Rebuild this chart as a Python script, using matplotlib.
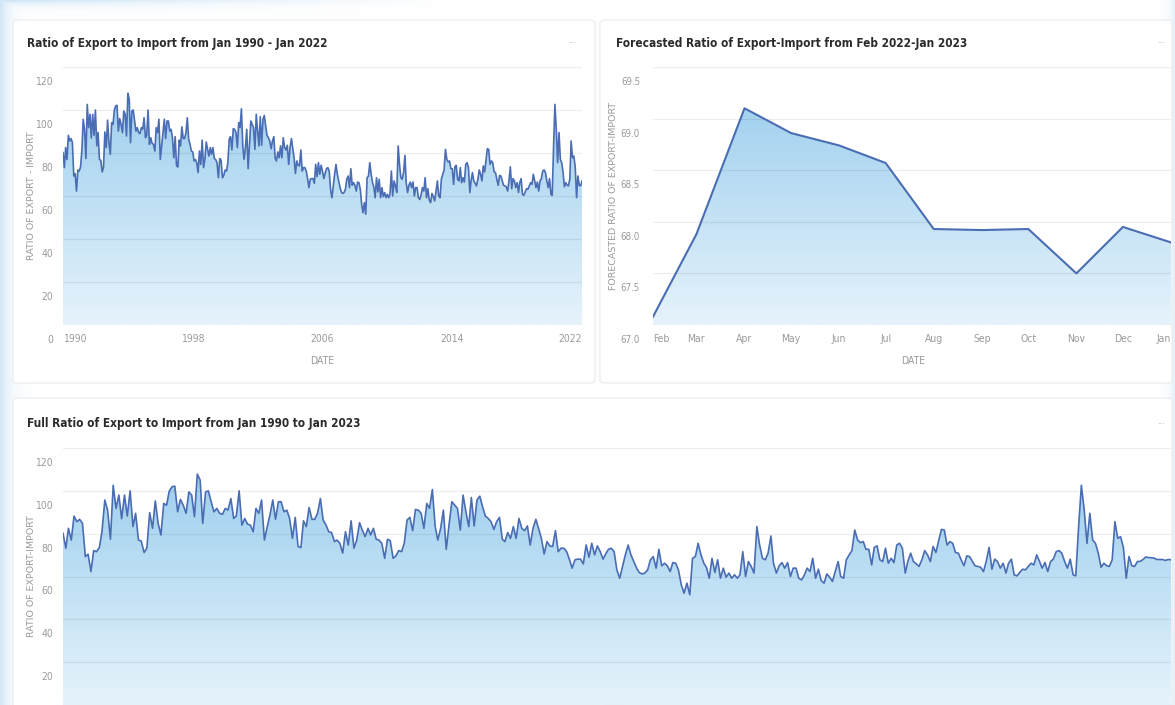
import numpy as np
import pandas as pd
import matplotlib
matplotlib.use('Agg')
import matplotlib.pyplot as plt
from matplotlib import transforms, font_manager
from matplotlib.colors import LinearSegmentedColormap, to_rgb
from matplotlib.patches import FancyBboxPatch
import matplotlib.dates as mdates

# ---------------- data ----------------
hist_start = '1990-01-01'
forecast_start = '2022-02-01'

ratio_part1 = [
    80.2, 73.2, 82.5, 77, 88.2, 85.6, 86.7, 84.8, 69.3, 70.4,
    62.3, 72.1, 71.6, 73.6, 81, 95.7, 91, 77.4, 102.6, 91.8,
    98, 87, 98, 88.2, 100, 83.3, 89.5, 77, 76.6, 71.2,
    73.2, 89.8, 82.5, 95.3, 84.8, 79.4, 94.1, 93.3, 99.8, 101.9,
    102.2, 90.2, 96, 93.3, 89.5, 99.5, 98, 87.9, 107.8, 105,
    84.8, 99.5, 100, 94.9, 90.2, 91.8, 89.5, 89, 91.8, 91,
    96.4, 87.1, 88.2, 100, 84, 87.1, 84.5, 84, 80.9, 91.8,
    89.5, 95.7, 77, 83.3, 88.7, 95.7, 86.7, 94.9, 94.9, 90.2,
    91, 87.1, 77.8, 87.6, 74, 73.5, 86, 83.3, 92.2, 86.7,
    86.7, 89.5, 96.4, 86.4, 84, 80.9, 80.5, 76.3, 77, 75.5,
    70.9, 80.9, 74.7, 86, 73.2, 77, 85.1, 81.7, 78.6, 82.5,
    79.4, 82.5, 77.4, 77, 75.5, 68.5, 77.4, 76.7, 68.5, 69.6,
    72.1, 71.6, 75.5, 86.4, 87.6, 81.4, 91.3, 91, 89.5, 82.5,
    94.1, 91.8, 100.6,
]
ratio_part2 = [
    83.3, 77, 82.5, 91, 72.7, 84, 94.9, 93.3, 91.8, 81.7,
    98, 90.2, 83.3, 96.9, 83.6, 95.7, 97.5, 92.6, 88.2, 87.1,
    85.6, 82, 85.6, 87.6, 77.4, 76.3, 80.5, 77.8, 83.3, 77.8,
    87.1, 82.5, 81.4, 83.6, 74.7, 82.5, 86.7, 82.5, 77.8, 70.5,
    76.3, 74.3, 74, 81.4, 71.6, 73.2, 73.2, 71.6, 67.8,
    63.9, 67.8, 68.1, 68.1, 65.9, 74.7, 69, 75.5, 70.1, 74.3,
    71.6, 68.1, 70.5, 72.7, 73.2, 71.6, 63.1, 59.2, 64.7, 70.1,
    74.7, 70.1, 67, 63.9, 61.9, 61.2, 61.6, 63.1, 67.8, 69.3,
    63.9, 72.7, 65, 66.2, 65, 62.3, 66.5, 66.2, 63.1, 56.1,
    52.2, 56.9, 51.5, 68.5, 69.3, 75.5, 70.1, 66.2, 64.3, 59.2,
    68.5, 61.9, 67.8, 59.2, 63.9, 59.7, 61.6, 59.2, 60.8, 59.2,
    60.8, 71.6, 60, 67, 64.7, 61.6, 83.3, 74.7, 68.5, 67.8,
    70.9, 78.9, 66.2, 61.6, 65, 66.5, 63.9, 66.5, 60, 63.9,
    63.9, 59.2, 58.4,
]
ratio_part3 = [
    60.8, 63.9, 62.3, 68.5, 59.2, 63.4, 58.1, 56.9, 61.2, 59.7,
    57.7, 62.3, 67, 60, 59.2, 67.8, 70.1, 72.1, 81.7, 77,
    75.8, 76.3, 72.7, 72.7, 65.4, 73.6, 74.3, 67.8, 67,
    73.2, 66.2, 68.5, 66.5, 74.7, 75.5, 73.2, 61.6, 67, 70.9,
    67, 65.9, 64.7, 67.8, 72.1, 70.1, 67, 74, 71.2, 77,
    82, 81.7, 74.7, 76.3, 75.5, 71.2, 70.9, 67.8, 65, 69.6,
    69.3, 67, 65, 64.7, 64.3, 62.3, 67, 73.6, 63.4, 68.1,
    67, 63.9, 66.2, 61.6, 66.2, 68.1, 60.8, 60.3, 61.9, 63.4,
    63.1, 64.7, 66.2, 65.4, 70.1, 67, 63.9, 66.5, 62.3, 67,
    68.1, 71.6, 72.1, 70.9, 67, 63.9, 68.1, 60.8, 60.3,
    83.3, 102.6, 91, 75.5, 89.5, 77, 75.5, 70.9, 64.3, 66.2,
    65, 64.7, 67.8, 85.6, 77.8, 78.6, 73.6, 59.2, 69.3, 65,
    64.7, 67,
]
forecast_ratio = [67.08, 67.88, 69.10, 68.86, 68.74, 68.57,
                  67.93, 67.92, 67.93, 67.50, 67.95, 67.80]
forecast_months = ['Feb', 'Mar', 'Apr', 'May', 'Jun', 'Jul',
                   'Aug', 'Sep', 'Oct', 'Nov', 'Dec', 'Jan']
year_ticks = ['1990', '1998', '2006', '2014', '2022']
hist_yticks = [0, 20, 40, 60, 80, 100, 120]
forecast_yticks = [67.0, 67.5, 68.0, 68.5, 69.0, 69.5]
full_yticks = [20, 40, 60, 80, 100, 120]

title_hist = 'Ratio of Export to Import from Jan 1990 - Jan 2022'
title_fc = 'Forecasted Ratio of Export-Import from Feb 2022-Jan 2023'
title_full = 'Full Ratio of Export to Import from Jan 1990 to Jan 2023'
ylab_hist = 'RATIO OF EXPORT - IMPORT'
ylab_fc = 'FORECASTED RATIO OF EXPORT-IMPORT'
ylab_full = 'RATIO OF EXPORT-IMPORT'

hist_ratio = ratio_part1 + ratio_part2 + ratio_part3
hist_dates = pd.date_range(hist_start, periods=len(hist_ratio), freq='MS')
fc_dates = pd.date_range(forecast_start, periods=len(forecast_ratio), freq='MS')
full_dates = hist_dates.append(fc_dates)
full_ratio = hist_ratio + forecast_ratio

# ---------------- fonts ----------------
ttf = font_manager.fontManager.ttflist
names = {f.name for f in ttf}
cond = [f.name for f in ttf if f.stretch in ('condensed', 'semi-condensed', 'extra-condensed')]
if 'Liberation Sans Narrow' in names:
    NARROW, STRETCH = 'Liberation Sans Narrow', 'normal'
elif 'DejaVu Sans' in cond:
    NARROW, STRETCH = 'DejaVu Sans', 'condensed'
elif cond:
    NARROW, STRETCH = cond[0], 'condensed'
else:
    NARROW, STRETCH = 'Roboto', 'normal'
plt.rcParams['font.family'] = [NARROW, 'DejaVu Sans']
plt.rcParams['font.stretch'] = STRETCH

W, H = 1175, 705
DPI = 100
fig = plt.figure(figsize=(W / DPI, H / DPI), dpi=DPI)
fig.patch.set_facecolor('white')

def fx(x):
    return x / W

def fy(y):
    return 1 - y / H

# background tint
bg = fig.add_axes([0, 0, 1, 1], zorder=-20)
xx, yy = np.meshgrid(np.arange(W), np.arange(H))
t = np.maximum(np.exp(-xx / 9.0), np.exp(-yy / 5.0) * np.clip(1 - xx / 450, 0, 1))
t = np.maximum(t, np.exp(-(W - 1 - xx) / 5.0) * 0.6)
tint = np.array(to_rgb('#cfe6f6'))
img = (1 - t[..., None]) * np.ones(3) + t[..., None] * tint
bg.imshow(img, aspect='auto', interpolation='bilinear')
bg.set_axis_off()

# cards
for (x0, y0, x1, y1) in [(13, 20, 595, 383), (600, 20, 1172, 383), (13, 398, 1172, 712)]:
    card = FancyBboxPatch((fx(x0), fy(y1)), fx(x1 - x0), (y1 - y0) / H,
                          boxstyle='round,pad=0,rounding_size=0.004',
                          transform=fig.transFigure, facecolor='white',
                          edgecolor='#e9ebee', linewidth=0.8, zorder=-10)
    fig.patches.append(card)

LINE = '#4a6db3'
C_TOP = '#96cbed'
C_BOT = '#e6f3fb'
GRAY = '#9a9a9a'


def draw_area(ax, dates, vals, ymin, ymax, lw):
    xnum = mdates.date2num(dates)
    poly = ax.fill_between(xnum, vals, ymin, facecolor='none', edgecolor='none')
    cmap = LinearSegmentedColormap.from_list('g', [C_BOT, C_TOP])
    grad = np.linspace(1, 0, 256).reshape(-1, 1)
    im = ax.imshow(grad, aspect='auto', cmap=cmap, vmin=0, vmax=1,
                   extent=[xnum[0], xnum[-1], ymin, ymax], origin='upper',
                   zorder=1, interpolation='bilinear')
    im.set_clip_path(poly.get_paths()[0], transform=ax.transData)
    ax.plot(xnum, vals, color=LINE, lw=lw, zorder=3, solid_joinstyle='round')
    ax.set_xlim(xnum[0], xnum[-1])
    ax.set_ylim(ymin, ymax)


def style_axes(ax, grid_vals, label_vals, fmt, label_dx, fs=7.5):
    for s in ax.spines.values():
        s.set_visible(False)
    ax.set_yticks([])
    for v in grid_vals:
        ax.axhline(v, color='black', alpha=0.07, lw=0.9, zorder=2)
    for v in label_vals:
        tr = transforms.offset_copy(
            transforms.blended_transform_factory(ax.transAxes, ax.transData),
            fig=fig, x=-label_dx, y=-15, units='dots')
        ax.text(0, v, fmt.format(v), transform=tr, ha='right', va='center',
                fontsize=fs, color=GRAY, clip_on=False)
    ax.tick_params(axis='x', length=0, pad=6.5, labelsize=7.5, labelcolor=GRAY)


# ---- top-left ----
ax1 = fig.add_axes([fx(63), fy(325), (582 - 63) / W, (325 - 67) / H])
draw_area(ax1, hist_dates, hist_ratio, 0, 120, 1.2)
style_axes(ax1, hist_yticks, hist_yticks, '{:.0f}', 10)
ax1.set_xticks(mdates.date2num(pd.to_datetime([y + '-01-01' for y in year_ticks])))
ax1.set_xticklabels(year_ticks)

# ---- top-right ----
ax2 = fig.add_axes([fx(653), fy(325), (1171 - 653) / W, (325 - 67) / H])
draw_area(ax2, fc_dates, forecast_ratio, 67.0, 69.5, 1.5)
style_axes(ax2, forecast_yticks, forecast_yticks, '{:.1f}', 13, fs=7)
ax2.set_xticks(mdates.date2num(fc_dates))
ax2.set_xticklabels(forecast_months)

# ---- bottom ----
ax3 = fig.add_axes([fx(63), 0, (1171 - 63) / W, (705 - 448) / H])
draw_area(ax3, full_dates, full_ratio, 0, 120, 1.2)
style_axes(ax3, [0] + full_yticks, full_yticks, '{:.0f}', 10)
ax3.set_xticks([])

for ax in (ax1, ax2):
    labs = ax.get_xticklabels()
    labs[0].set_ha('left')
    labs[-1].set_ha('right')

# titles and labels
TITLE_KW = dict(fontsize=8.5, color='#2b2b2b', fontweight='bold', va='center', ha='left')
fig.text(fx(27), fy(44), title_hist, **TITLE_KW)
fig.text(fx(616), fy(44), title_fc, **TITLE_KW)
fig.text(fx(27), fy(424), title_full, **TITLE_KW)
for (x, y) in [(572, 43), (1161, 43), (1161, 424)]:
    fig.text(fx(x), fy(y), '···', fontsize=7, color='#b0b0b0', ha='center', va='center')

YL_KW = dict(rotation=90, fontsize=6.8, color=GRAY, ha='center', va='center',
             family=['DejaVu Sans'], fontstretch='normal')
fig.text(fx(32), fy(196), ylab_hist, **YL_KW)
fig.text(fx(613), fy(196), ylab_fc, **YL_KW)
fig.text(fx(32), fy(576), ylab_full, **YL_KW)
fig.text(fx(322), fy(361), 'DATE', fontsize=7.5, color=GRAY, ha='center', va='center')
fig.text(fx(913), fy(361), 'DATE', fontsize=7.5, color=GRAY, ha='center', va='center')

fig.savefig('out.png', dpi=DPI)
